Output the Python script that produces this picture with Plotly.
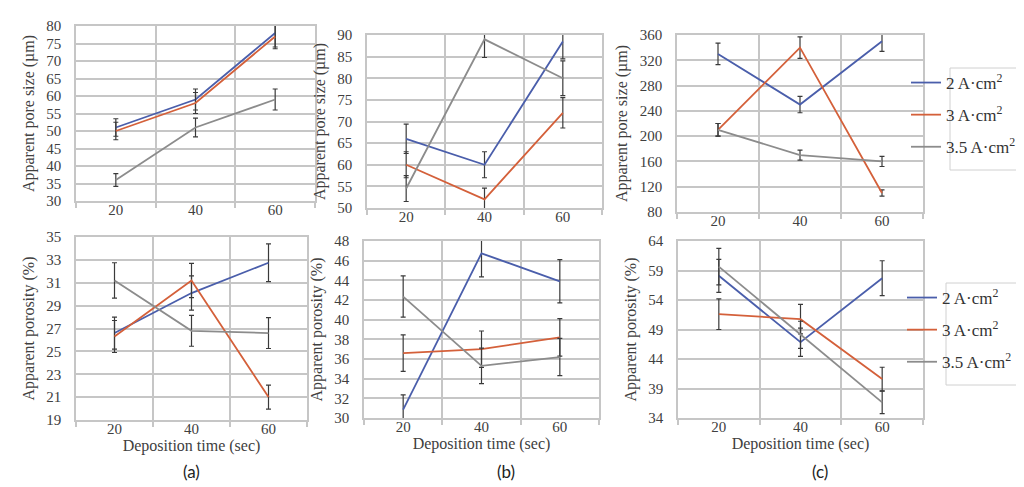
import plotly.graph_objects as go

W, H = 1024, 487

time = [20, 40, 60]
series_names = ["2 A·cm<sup>2</sup>", "3 A·cm<sup>2</sup>", "3.5 A·cm<sup>2</sup>"]
colors = ["#4a5eab", "#d4603a", "#8c8c8c"]

# (a) pore size
pore_a_2 = [51, 59, 78]
pore_a_2_err = [2.5, 3, 4]
pore_a_3 = [50, 58, 77]
pore_a_3_err = [2.5, 3, 3.5]
pore_a_35 = [36, 51, 59]
pore_a_35_err = [1.8, 2.7, 3]
# (b) pore size
pore_b_2 = [66, 60, 88.5]
pore_b_2_err = [3.4, 3, 4]
pore_b_3 = [60, 52, 72]
pore_b_3_err = [3, 2.6, 3.5]
pore_b_35 = [54.5, 89, 80]
pore_b_35_err = [3, 4.2, 4]
# (c) pore size
pore_c_2 = [330, 250, 350]
pore_c_2_err = [17, 13, 16]
pore_c_3 = [210, 340, 110]
pore_c_3_err = [10, 17, 5]
pore_c_35 = [210, 170, 160]
pore_c_35_err = [10, 8, 8]
# (a) porosity
por_a_2 = [26.6, 30.1, 32.75]
por_a_2_err = [1.4, 1.5, 1.65]
por_a_3 = [26.3, 31.2, 21.0]
por_a_3_err = [1.4, 1.5, 1.05]
por_a_35 = [31.2, 26.8, 26.6]
por_a_35_err = [1.55, 1.35, 1.35]
# (b) porosity
por_b_2 = [30.85, 46.75, 43.9]
por_b_2_err = [1.5, 2.4, 2.2]
por_b_3 = [36.6, 37.0, 38.2]
por_b_3_err = [1.85, 1.85, 1.9]
por_b_35 = [42.35, 35.3, 36.2]
por_b_35_err = [2.1, 1.8, 1.9]
# (c) porosity
por_c_2 = [58.1, 46.85, 57.7]
por_c_2_err = [2.8, 2.4, 2.95]
por_c_3 = [51.6, 50.75, 40.6]
por_c_3_err = [2.6, 2.5, 2.0]
por_c_35 = [59.65, 48.1, 36.65]
por_c_35_err = [3.1, 2.3, 1.9]

panels = [
    dict(box=(68, 307, 18, 193), yr=[30, 80], dt=5, t0=30, yt="Apparent pore size (µm)", xt=None,
         data=[(pore_a_2, pore_a_2_err), (pore_a_3, pore_a_3_err), (pore_a_35, pore_a_35_err)], leg=None),
    dict(box=(359, 594, 27, 200), yr=[50, 90], dt=5, t0=50, yt="Apparent pore size (µm)", xt=None,
         data=[(pore_b_2, pore_b_2_err), (pore_b_3, pore_b_3_err), (pore_b_35, pore_b_35_err)], leg=None),
    dict(box=(669, 915, 27, 204), yr=[80, 360], dt=40, t0=80, yt="Apparent pore size (µm)", xt=None,
         data=[(pore_c_2, pore_c_2_err), (pore_c_3, pore_c_3_err), (pore_c_35, pore_c_35_err)], leg="legend"),
    dict(box=(68, 299, 229, 412), yr=[19, 35], dt=2, t0=19, yt="Apparent porosity (%)", xt="Deposition time (sec)",
         data=[(por_a_2, por_a_2_err), (por_a_3, por_a_3_err), (por_a_35, por_a_35_err)], leg=None),
    dict(box=(356, 591, 233, 410), yr=[30, 48], dt=2, t0=30, yt="Apparent porosity (%)", xt="Deposition time (sec)",
         data=[(por_b_2, por_b_2_err), (por_b_3, por_b_3_err), (por_b_35, por_b_35_err)], leg=None),
    dict(box=(670, 915, 233, 410), yr=[34, 64], dt=5, t0=34, yt="Apparent porosity (%)", xt="Deposition time (sec)",
         data=[(por_c_2, por_c_2_err), (por_c_3, por_c_3_err), (por_c_35, por_c_35_err)], leg="legend2"),
]

GRID = "#c6c6c6"
TXT = "#404040"
FONT = "Liberation Serif"

fig = go.Figure()
layout = {}
for i, p in enumerate(panels):
    n = "" if i == 0 else str(i + 1)
    x0, x1, y0, y1 = p["box"]
    xa = dict(domain=[x0 / W, x1 / W], range=[10, 70], tickvals=time, ticktext=[str(t) for t in time],
              showgrid=False, zeroline=False, showline=True, mirror=True, linecolor=GRID, linewidth=1.5,
              ticks="", tickfont=dict(family=FONT, size=15, color=TXT), ticklabelstandoff=-6,
              minor=dict(tick0=10, dtick=20, showgrid=True, gridcolor=GRID, gridwidth=1.5,
                         ticks="outside", ticklen=5, tickcolor=GRID, tickwidth=1.5),
              anchor="y" + n, fixedrange=True, automargin=False)
    if p["xt"]:
        xa["title"] = dict(text=p["xt"], font=dict(family=FONT, size=16, color=TXT), standoff=4)
    ya = dict(domain=[1 - y1 / H, 1 - y0 / H], range=p["yr"], tick0=p["t0"], dtick=p["dt"],
              showgrid=True, gridcolor=GRID, gridwidth=1.5, zeroline=False, showline=True, mirror=True,
              linecolor=GRID, linewidth=1.5, ticks="", tickfont=dict(family=FONT, size=15, color=TXT),
              ticklabelstandoff=10, anchor="x" + n, fixedrange=True, automargin=False,
              title=dict(text=p["yt"], font=dict(family=FONT, size=16, color=TXT), standoff=8))
    layout["xaxis" + n] = xa
    layout["yaxis" + n] = ya
    for k, (vals, errs) in enumerate(p["data"]):
        tr = dict(x=time, y=vals, mode="lines", name=series_names[k],
                  line=dict(color=colors[k], width=1.8),
                  error_y=dict(type="data", array=errs, visible=True, color="#3a3a3a", thickness=1.2, width=2.5),
                  xaxis="x" + n, yaxis="y" + n, showlegend=p["leg"] is not None,
                  legendgroup=(p["leg"] or "") + str(k))
        if p["leg"]:
            tr["legend"] = p["leg"]
        fig.add_trace(go.Scatter(**tr))

leg_common = dict(bgcolor="rgba(0,0,0,0)", borderwidth=0, font=dict(family=FONT, size=17, color="#333333"),
                  xanchor="left", yanchor="top", tracegroupgap=7, itemclick=False, itemdoubleclick=False)
layout["legend"] = dict(x=898 / W, y=1 - 57 / H, **leg_common)
layout["legend2"] = dict(x=894 / W, y=1 - 272 / H, **leg_common)

shapes = [
    dict(type="rect", xref="paper", yref="paper", x0=942 / W, x1=1.01, y0=1 - 162 / H, y1=1 - 60 / H,
         line=dict(color="#d0d0d0", width=1)),
    dict(type="rect", xref="paper", yref="paper", x0=938 / W, x1=1.01, y0=1 - 377 / H, y1=1 - 275 / H,
         line=dict(color="#d0d0d0", width=1)),
]

annotations = []
for lbl, px in [("(a)", 183), ("(b)", 498), ("(c)", 812)]:
    annotations.append(dict(text=lbl, x=px / W, y=1 - 476 / H, xref="paper", yref="paper",
                            showarrow=False, font=dict(family="Lato", size=17, color="#222222"),
                            xanchor="center", yanchor="bottom"))

fig.update_layout(template="none", width=W, height=H, margin=dict(l=0, r=0, t=0, b=0),
                  paper_bgcolor="white", plot_bgcolor="white", shapes=shapes, annotations=annotations,
                  **layout)
fig.write_html("out.html")
